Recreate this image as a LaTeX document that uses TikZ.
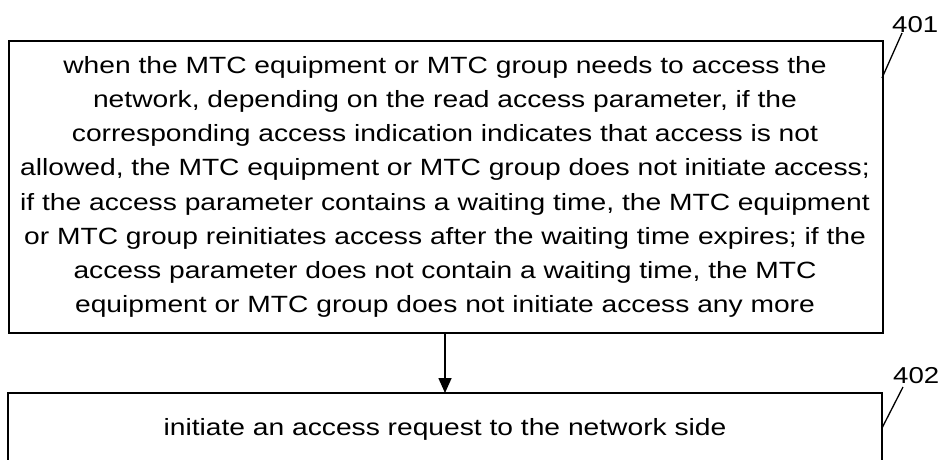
\documentclass[tikz,border=0pt]{standalone}
\usepackage{fontspec}
\setmainfont{Liberation Sans}[FakeStretch=1.2]
\usetikzlibrary{arrows.meta}
\begin{document}
\begin{tikzpicture}[x=1pt,y=-1pt,
  frame/.style={draw=black,line width=1.6pt},
  txt/.style={align=center,font=\fontsize{23.5}{34.25}\selectfont,inner sep=0pt},
  lbl/.style={font=\fontsize{23}{26}\selectfont,inner sep=0pt},
  tick/.style={line width=1.3pt},
  flow/.style={line width=1.6pt,-{Triangle[length=15pt,width=13pt]}}]
\useasboundingbox (0,0) rectangle (944,459);
\node[frame,minimum width=874pt,minimum height=292pt,anchor=north west,inner sep=0pt] (b1) at (8,40) {};
\node[txt] (t1) at (445,187) {when the MTC equipment or MTC group needs to access the\\
network, depending on the read access parameter, if the\\
corresponding access indication indicates that access is not\\
allowed, the MTC equipment or MTC group does not initiate access;\\
if the access parameter contains a waiting time, the MTC equipment\\
or MTC group reinitiates access after the waiting time expires; if the\\
access parameter does not contain a waiting time, the MTC\\
equipment or MTC group does not initiate access any more};
\coordinate (b2nw) at (8,393);
\coordinate (b2ne) at (882,393);
\coordinate (b2sw) at (8,459.5);
\coordinate (b2se) at (882,459.5);
\draw[frame] (b2sw) -- (b2nw) -- (b2ne) -- (b2se);
\node[txt,anchor=base] (t2) at (445,435) {initiate an access request to the network side};
\draw[flow] (b1.south -| t2) -- (b2nw -| t2);
\coordinate (k1a) at (882,78);
\coordinate (k1b) at (902,33);
\node[lbl,anchor=base west] (l401) at (892,32) {401};
\draw[tick] (k1a) -- (k1b);
\coordinate (k2a) at (882,428);
\coordinate (k2b) at (903,387);
\node[lbl,anchor=base west] (l402) at (893,383) {402};
\draw[tick] (k2a) -- (k2b);
\end{tikzpicture}
\end{document}
